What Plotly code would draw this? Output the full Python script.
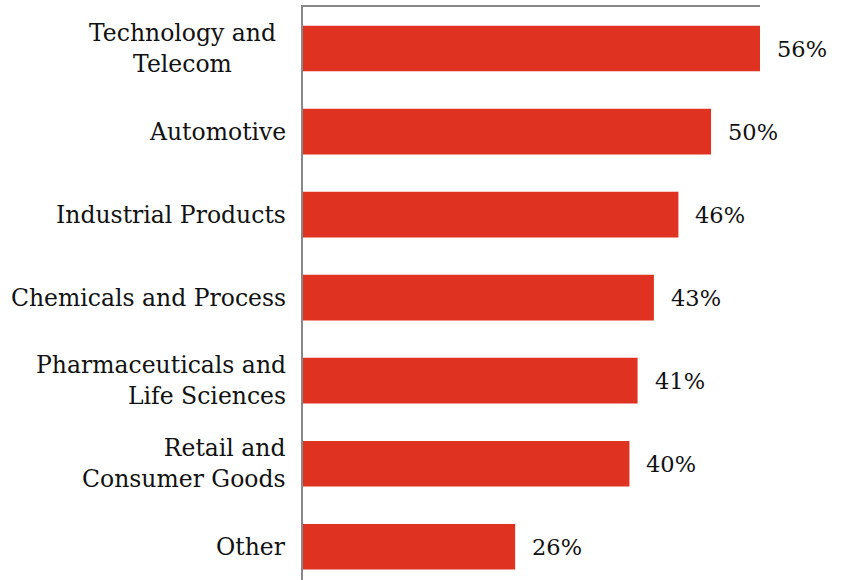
import plotly.graph_objects as go

# Share of respondents by industry
categories = [
    "Technology and<br>Telecom",
    "Automotive",
    "Industrial Products",
    "Chemicals and Process",
    "Pharmaceuticals and<br>Life Sciences",
    "Retail and<br>Consumer Goods",
    "Other",
]
values = [56, 50, 46, 43, 41, 40, 26]
value_labels = ["56%", "50%", "46%", "43%", "41%", "40%", "26%"]

BAR_COLOR = "#E03220"
FONT = "DejaVu Serif"
positions = list(range(len(categories)))

fig = go.Figure(
    go.Bar(
        x=values,
        y=positions,
        orientation="h",
        marker=dict(color=BAR_COLOR, line=dict(width=0)),
        width=0.55,
        hoverinfo="skip",
    )
)

annotations = []
# value labels to the right of each bar
for pos, v, txt in zip(positions, values, value_labels):
    annotations.append(dict(
        x=v, y=pos, xref="x", yref="y", text=txt, showarrow=False,
        xanchor="left", yanchor="middle", xshift=15,
        font=dict(family=FONT, size=22.5, color="#111111"),
    ))
# category labels on the left
for pos, cat in zip(positions, categories):
    centered = pos == 0
    annotations.append(dict(
        x=0, y=pos, xref="paper", yref="y", text=cat, showarrow=False,
        xanchor="right", yanchor="middle",
        xshift=-25 if centered else -15,
        align="center" if centered else "right",
        font=dict(family=FONT, size=23.5, color="#111111"),
    ))

fig.update_layout(
    width=843, height=580,
    margin=dict(l=303, r=83, t=7, b=0),
    paper_bgcolor="white", plot_bgcolor="white",
    showlegend=False,
    annotations=annotations,
    xaxis=dict(
        range=[0, 56], side="top", showline=True, linecolor="#888888", linewidth=2,
        showgrid=False, zeroline=False, showticklabels=False, ticks="",
        fixedrange=True,
    ),
    yaxis=dict(
        range=[6.4, -0.5], showline=True, linecolor="#888888", linewidth=2,
        showgrid=False, zeroline=False, showticklabels=False, ticks="",
        fixedrange=True,
    ),
)

fig.write_html("out.html")
